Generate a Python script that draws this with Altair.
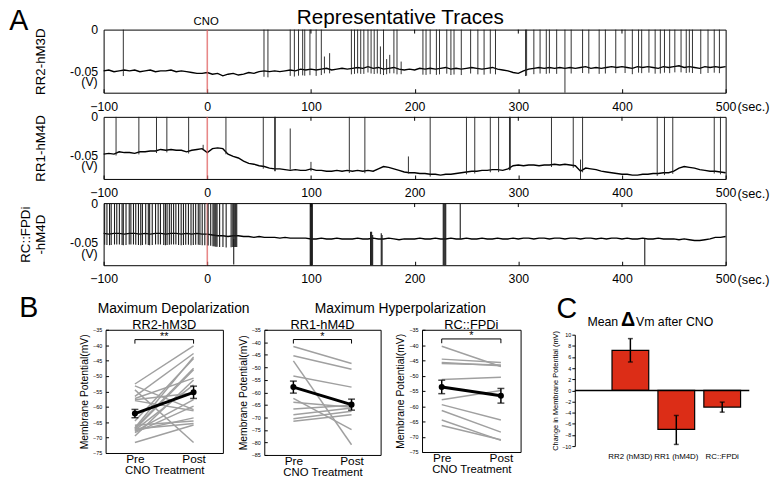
import altair as alt
import numpy as np
import pandas as pd

FONT = "Liberation Sans"

# ---------------- Panel A : representative traces ----------------
trace_time = list(range(-100, 505, 5))  # sample times (s)

rr2_trace = [
    -0.049, -0.048, -0.050, -0.049, -0.048, -0.049, -0.048, -0.050, -0.049, -0.048,
    -0.050, -0.049, -0.049, -0.048, -0.050, -0.049, -0.050, -0.051, -0.052, -0.052,
    -0.051, -0.053, -0.052, -0.055, -0.053, -0.052, -0.054, -0.053, -0.051, -0.052,
    -0.050, -0.049, -0.050, -0.049, -0.050, -0.049, -0.048, -0.049, -0.047, -0.048,
    -0.047, -0.048, -0.047, -0.046, -0.048, -0.047, -0.046, -0.047, -0.046, -0.045,
    -0.046, -0.044, -0.046, -0.045, -0.047, -0.046, -0.045, -0.047, -0.048, -0.047,
    -0.048, -0.046, -0.047, -0.046, -0.047, -0.046, -0.045, -0.047, -0.046, -0.047,
    -0.046, -0.045, -0.046, -0.047, -0.046, -0.045, -0.047, -0.048, -0.049, -0.051,
    -0.052, -0.049, -0.047, -0.046, -0.045, -0.046, -0.045, -0.046, -0.045, -0.046,
    -0.045, -0.046, -0.045, -0.044, -0.046, -0.045, -0.046, -0.045, -0.044, -0.045,
    -0.044, -0.045, -0.046, -0.044, -0.045, -0.044, -0.045, -0.046, -0.044, -0.045,
    -0.044, -0.043, -0.045, -0.044, -0.045, -0.046, -0.044, -0.045, -0.044, -0.045,
    -0.044]
rr1_trace = [
    -0.048, -0.047, -0.048, -0.045, -0.046, -0.046, -0.047, -0.045, -0.045, -0.044,
    -0.044, -0.042, -0.043, -0.042, -0.043, -0.043, -0.045, -0.043, -0.042, -0.041,
    -0.046, -0.041, -0.040, -0.041, -0.048, -0.051, -0.053, -0.057, -0.060, -0.061,
    -0.063, -0.064, -0.066, -0.067, -0.067, -0.068, -0.069, -0.068, -0.069, -0.069,
    -0.067, -0.069, -0.069, -0.070, -0.070, -0.069, -0.070, -0.069, -0.070, -0.069,
    -0.070, -0.069, -0.070, -0.067, -0.064, -0.065, -0.067, -0.069, -0.071, -0.072,
    -0.072, -0.073, -0.073, -0.074, -0.074, -0.075, -0.074, -0.074, -0.073, -0.072,
    -0.071, -0.070, -0.070, -0.069, -0.069, -0.068, -0.068, -0.069, -0.067, -0.063,
    -0.062, -0.063, -0.062, -0.062, -0.063, -0.062, -0.062, -0.061, -0.062, -0.061,
    -0.062, -0.063, -0.070, -0.066, -0.067, -0.068, -0.070, -0.071, -0.072, -0.073,
    -0.074, -0.074, -0.075, -0.075, -0.074, -0.074, -0.073, -0.073, -0.072, -0.072,
    -0.070, -0.066, -0.064, -0.065, -0.066, -0.068, -0.069, -0.070, -0.070, -0.071,
    -0.072]
rcf_trace = [
    -0.038, -0.039, -0.038, -0.038, -0.039, -0.038, -0.038, -0.039, -0.038, -0.039,
    -0.038, -0.038, -0.039, -0.038, -0.038, -0.039, -0.038, -0.039, -0.038, -0.039,
    -0.039, -0.040, -0.041, -0.041, -0.042, -0.041, -0.041, -0.042, -0.042, -0.043,
    -0.042, -0.043, -0.043, -0.043, -0.044, -0.043, -0.044, -0.044, -0.044, -0.044,
    -0.045, -0.045, -0.044, -0.045, -0.045, -0.044, -0.045, -0.045, -0.045, -0.044,
    -0.045, -0.045, -0.044, -0.045, -0.045, -0.044, -0.045, -0.046, -0.045, -0.045,
    -0.045, -0.044, -0.045, -0.045, -0.044, -0.045, -0.045, -0.044, -0.045, -0.045,
    -0.044, -0.045, -0.045, -0.044, -0.045, -0.045, -0.044, -0.045, -0.045, -0.044,
    -0.045, -0.044, -0.044, -0.045, -0.044, -0.044, -0.045, -0.044, -0.044, -0.045,
    -0.044, -0.044, -0.045, -0.044, -0.044, -0.045, -0.044, -0.045, -0.044, -0.044,
    -0.045, -0.044, -0.045, -0.045, -0.044, -0.045, -0.045, -0.044, -0.045, -0.045,
    -0.045, -0.046, -0.045, -0.046, -0.047, -0.047, -0.046, -0.045, -0.043, -0.043,
    -0.042]

# spike times (s) reaching the top of the panel
rr2_spikes = [-81, 54.7, 58.5, 80, 84, 88, 92, 94, 99, 105, 110, 139, 142, 145, 148,
              151, 155, 158, 161, 164, 170, 180, 183, 208, 211, 215, 221, 224, 231,
              235, 238, 245, 254, 261, 267, 273, 278, 307, 308, 315, 321, 327, 330,
              337, 351, 362, 368, 378, 384, 394, 403, 410, 416, 419, 426, 432, 437,
              441, 446, 451, 457, 462, 465, 468, 476, 483, 489, 494]
# other events: (time, top, bottom)
rr2_events = [(113, -0.032, -0.052), (118, -0.028, -0.052), (167, -0.020, -0.053),
              (173, -0.035, -0.053), (176, -0.030, -0.052), (187, -0.038, -0.053),
              (345, 0.0, -0.075)]

rr1_spikes = [-88, -66, -49, -39, -18, 18, 54, 65, 65.6, 137, 152, 215, 250, 258,
              273, 281, 291.5, 292.3, 332, 353, 362, 434, 441, 449, 489, 495]
rr1_events = [(80, -0.015, -0.068), (100, -0.058, -0.070), (194, -0.051, -0.073),
              (360, -0.055, -0.080), (-4, -0.036, -0.043)]

rcf_spikes = [-99, -96.8, -94.3, -92.7, -89.5, -87.3, -84.8, -82.2, -81, -78.4, -75.3,
              -73.7, -71.2, -69, -66.4, -64.2, -62.6, -59.4, -56.9, -55.6, -53.1,
              -49.9, -47.4, -45.2, -42, -40.4, -38.8, -36.6, -34.7, -32.5, -30.3,
              -27.7, -25.2, -23, -20.8, -18.2, -15.7, -13.5, -11.2, -8.7, -7.1, -4.9,
              -2.4, 0.8, 3.3, 5.5, 6.5, 7.5, 8.4, 9.4, 11.9, 15.1, 18.2, 23, 24.6,
              25.5, 26.5, 27.4, 28.4]
rcf_events = [(25.5, -0.045, -0.077), (99.3, 0.0, -0.078), (99.8, 0.0, -0.078),
              (100.3, 0.0, -0.078), (100.8, 0.0, -0.078), (101.3, 0.0, -0.078),
              (157.5, -0.036, -0.078), (158.5, -0.036, -0.078), (159.5, -0.040, -0.078),
              (167.8, -0.038, -0.078), (168.6, -0.040, -0.078), (227.6, 0.0, -0.078),
              (228.4, 0.0, -0.078), (229.2, 0.0, -0.078), (230.0, 0.0, -0.078),
              (244, 0.0, -0.045), (422, -0.045, -0.078)]

trace_ticks = [-100, 0, 100, 200, 300, 400, 500]
inner_top_ticks = [100, 200, 300, 400]

# ---------------- Panel B : pre / post membrane potential ----------------
rr2_pre = [-52.6, -53.2, -56.6, -57.3, -57.7, -58.0, -64.6, -66.8, -67.0, -67.3,
           -67.6, -68.0, -68.4, -67.2, -67.8, -69.5, -71.6, -66.0, -54.5]
rr2_post = [-40.2, -60.9, -42.7, -50.7, -55.5, -61.3, -44.3, -43.8, -47.5, -48.0,
            -52.9, -57.7, -59.8, -65.4, -63.6, -51.3, -65.9, -64.6, -71.6]
rr2_mean = [-62.2, -55.3]
rr2_sem = [1.35, 2.0]

rr1_pre = [-41.7, -45.4, -47.4, -53.5, -62.4, -63.9, -66.6, -68.9, -70.5, -71.5]
rr1_post = [-48.5, -50.8, -80.9, -57.9, -74.9, -65.9, -65.1, -66.2, -67.5, -68.9]
rr1_mean = [-57.9, -64.9]
rr1_sem = [2.4, 2.2]

rcf_pre = [-40.4, -44.6, -45.7, -46.0, -51.3, -57.9, -59.5, -61.4, -64.5, -66.3]
rcf_post = [-47.0, -45.7, -46.8, -46.5, -50.5, -54.9, -64.5, -68.5, -71.2, -71.0]
rcf_mean = [-53.7, -56.6]
rcf_sem = [2.2, 2.4]

# ---------------- Panel C : mean change ----------------
c_groups = ["RR2 (hM3D)", "RR1 (hM4D)", "RC::FPDi"]
c_mean = [7.2, -7.0, -3.0]
c_err_a = [5.1, -4.5, -2.1]
c_err_b = [9.3, -9.7, -3.9]


def ptext(txt, x, y, size, align="center", weight="normal", baseline="middle"):
    return alt.Chart(pd.DataFrame({"s": [txt]})).mark_text(
        fontSize=size, align=align, baseline=baseline, fontWeight=weight,
        font=FONT, color="black").encode(x=alt.value(x), y=alt.value(y), text="s:N")


def spikes_frame(base_v, spikes, events, below):
    bt = np.array(trace_time, dtype=float)
    bv = np.array(base_v, dtype=float)
    st = np.array(spikes, dtype=float)
    bot = np.interp(st, bt, bv) - below
    df1 = pd.DataFrame({"t": st, "top": 0.0, "bot": bot})
    df2 = pd.DataFrame(events, columns=["t", "top", "bot"])
    return pd.concat([df1, df2], ignore_index=True)


def trace_panel(base_v, spk, ydom, height, ytitle, extras=(), spike_w=0.9):
    xsc = alt.Scale(domain=[-100, 500], nice=False, zero=False)
    ysc = alt.Scale(domain=ydom, nice=False, zero=False)
    xb = alt.Axis(values=trace_ticks, title=None, grid=False, domain=False,
                  tickSize=4, offset=-4, labelPadding=8, labelFontSize=12.5,
                  labelFlush=False, labelFont=FONT)
    yl = alt.Axis(values=[0, -0.05], labelExpr="datum.value == 0 ? '0' : '-0.05'",
                  title=ytitle, grid=False, domain=False, ticks=False, labelPadding=6,
                  labelFontSize=12.5, titleFontSize=13.5, titleFontWeight="normal",
                  titlePadding=22, labelFlush=False, titleLineHeight=16)

    def X(f):
        return alt.X(f, type="quantitative", scale=xsc, axis=xb)

    def Y(f):
        return alt.Y(f, type="quantitative", scale=ysc, axis=yl)

    base = pd.DataFrame({"t": trace_time, "v": base_v})
    red = alt.Chart(pd.DataFrame({"t": [0]})).mark_rule(
        color="#e06060", strokeWidth=1.6, opacity=0.75).encode(x=X("t"))
    spikes = alt.Chart(spk).mark_rule(color="#1a1a1a", strokeWidth=spike_w).encode(
        x=X("t"), y=Y("bot"), y2="top:Q")
    line = alt.Chart(base).mark_line(color="black", strokeWidth=1.4).encode(
        x=X("t"), y=Y("v"))
    # short inward tick marks along the top frame (4 px long)
    tick_len = (ydom[1] - ydom[0]) * 4.0 / height
    tdf = pd.DataFrame({"t": inner_top_ticks, "a": [ydom[1]] * 4,
                        "b": [ydom[1] - tick_len] * 4})
    topticks = alt.Chart(tdf).mark_rule(color="black", strokeWidth=1).encode(
        x=X("t"), y=Y("a"), y2="b:Q")
    sec = alt.Chart(pd.DataFrame({"t": [500], "v": [ydom[0]], "s": ["(sec.)"]})).mark_text(
        align="left", baseline="top", dx=12, dy=9, fontSize=13, font=FONT,
        color="black").encode(x=X("t"), y=Y("v"), text="s:N")
    volt = alt.Chart(pd.DataFrame({"t": [-100], "v": [-0.05], "s": ["(V)"]})).mark_text(
        align="right", baseline="middle", dx=-6, dy=11, fontSize=12.5, font=FONT,
        color="black").encode(x=X("t"), y=Y("v"), text="s:N")
    layers = [line, red, spikes, topticks, sec, volt] + list(extras)
    return alt.layer(*layers).properties(width=631, height=height)


t1_extra = [
    ptext("Representative Traces", 301, -12, 21),
    ptext("CNO", 104, -8, 11.5),
    ptext("A", -86, -9, 29),
]
t1 = trace_panel(rr2_trace, spikes_frame(rr2_trace, rr2_spikes, rr2_events, 0.007),
                 [-0.075, 0], 64, "RR2-hM3D", t1_extra)
t2 = trace_panel(rr1_trace, spikes_frame(rr1_trace, rr1_spikes, rr1_events, 0.003),
                 [-0.08, 0], 63, "RR1-hM4D")
t3 = trace_panel(rcf_trace, spikes_frame(rcf_trace, rcf_spikes, rcf_events, 0.014),
                 [-0.078, 0], 63, ["RC::FPDi", "-hM4D"], spike_w=1.1)


def b_panel(pre, post, mean, sem, ydom, width, height, xdom, name, stars,
            br, br_end, extras=()):
    xsc = alt.Scale(domain=xdom, nice=False, zero=False)
    ysc = alt.Scale(domain=ydom, nice=False, zero=False)
    yvals = list(range(-35, ydom[0] - 1, -5))
    xa = alt.Axis(values=[1, 2], labelExpr="datum.value == 1 ? 'Pre' : 'Post'",
                  title="CNO Treatment", titleFontSize=11.5, titleFontWeight="normal",
                  labelFontSize=12, ticks=False, labelPadding=1, titlePadding=0,
                  grid=False, domain=False, labelFlush=False)
    ya = alt.Axis(values=yvals, title="Membrane Potential(mV)", titleFontSize=10.5,
                  titleFontWeight="normal", labelFontSize=5.5, tickSize=3, offset=-3,
                  labelPadding=4, domain=False, grid=False, titlePadding=3)

    def X(f):
        return alt.X(f, type="quantitative", scale=xsc, axis=xa)

    def Y(f):
        return alt.Y(f, type="quantitative", scale=ysc, axis=ya)

    n = len(pre)
    lines = pd.DataFrame({"id": list(range(n)) * 2, "c": [1] * n + [2] * n,
                          "v": list(pre) + list(post)})
    gray = alt.Chart(lines).mark_line(color="#a0a0a0", strokeWidth=1.5).encode(
        x=X("c"), y=Y("v"), detail="id:N")
    mdf = pd.DataFrame({"c": [1, 2], "m": mean,
                        "lo": [mean[0] - sem[0], mean[1] - sem[1]],
                        "hi": [mean[0] + sem[0], mean[1] + sem[1]]})
    mline = alt.Chart(mdf).mark_line(color="black", strokeWidth=3).encode(
        x=X("c"), y=Y("m"))
    mpt = alt.Chart(mdf).mark_point(filled=True, size=38, color="black", opacity=1).encode(
        x=X("c"), y=Y("m"))
    ebar = alt.Chart(mdf).mark_rule(color="black", strokeWidth=1.5).encode(
        x=X("c"), y=Y("lo"), y2="hi:Q")
    cap_lo = alt.Chart(mdf).mark_tick(color="black", orient="horizontal", size=7,
                                      thickness=1.5).encode(x=X("c"), y=Y("lo"))
    cap_hi = alt.Chart(mdf).mark_tick(color="black", orient="horizontal", size=7,
                                      thickness=1.5).encode(x=X("c"), y=Y("hi"))
    bdf = pd.DataFrame({"a": [1], "b": [2], "y": [br]})
    bh = alt.Chart(bdf).mark_rule(color="black", strokeWidth=1).encode(
        x=X("a"), x2="b:Q", y=Y("y"))
    vdf = pd.DataFrame({"c": [1, 2], "y": [br, br], "y2": [br_end, br_end]})
    bv = alt.Chart(vdf).mark_rule(color="black", strokeWidth=1).encode(
        x=X("c"), y=Y("y"), y2="y2:Q")
    sdf = pd.DataFrame({"c": [1.5], "y": [br], "s": [stars]})
    st = alt.Chart(sdf).mark_text(fontSize=11, dy=-3, font=FONT, color="black").encode(
        x=X("c"), y=Y("y"), text="s:N")
    ttl = ptext(name, width / 2, -5, 13)
    layers = [gray, mline, ebar, cap_lo, cap_hi, mpt, bh, bv, st, ttl] + list(extras)
    return alt.layer(*layers).properties(width=width, height=height)


b1 = b_panel(rr2_pre, rr2_post, rr2_mean, rr2_sem, [-75, -35], 119, 125, [0.5, 2.5],
             "RR2-hM3D", "**", -38.2, -39.5,
             [ptext("Maximum Depolarization", 69, -21, 14), ptext("B", -78, -22, 29)])
b2 = b_panel(rr1_pre, rr1_post, rr1_mean, rr1_sem, [-85, -35], 118, 127, [0.5, 2.5],
             "RR1-hM4D", "*", -38.9, -40.5)
b3 = b_panel(rcf_pre, rcf_post, rcf_mean, rcf_sem, [-75, -35], 100, 124, [0.667, 2.333],
             "RC::FPDi", "*", -38.0, -39.4,
             [ptext("Maximum Hyperpolarization", -22, -21, 14)])

# ---------------- Panel C ----------------
cdf = pd.DataFrame({"g": c_groups, "m": c_mean, "a": c_err_a, "b": c_err_b})
cx = alt.X("g:N", sort=c_groups,
           scale=alt.Scale(paddingInner=0.2, paddingOuter=0.5, align=0.81),
           axis=alt.Axis(title=None, ticks=False, domain=False, labelAngle=0,
                         labelFontSize=8, labelPadding=7, labelFont=FONT))
cysc = alt.Scale(domain=[-10, 10], range=[118, 5], nice=False, zero=False)
cya = alt.Axis(values=list(range(-10, 11, 2)), labelFontSize=5.5, tickSize=3,
               labelPadding=1, title="Change in Membrane Potential (mV)",
               titleFontSize=7.5, titleFontWeight="normal", titlePadding=2,
               grid=False, domainColor="black", domainWidth=1)
cbars = alt.Chart(cdf).mark_bar(color="#dc2d17", stroke="black", strokeWidth=1.2).encode(
    x=cx, y=alt.Y("m:Q", scale=cysc, axis=cya))
czero = alt.Chart(pd.DataFrame({"z": [0]})).mark_rule(color="black", strokeWidth=1.5).encode(
    y=alt.Y("z:Q", scale=cysc, axis=cya))
cerr = alt.Chart(cdf).mark_rule(color="black", strokeWidth=1.5).encode(
    x=cx, y=alt.Y("a:Q", scale=cysc, axis=cya), y2="b:Q")
ccap1 = alt.Chart(cdf).mark_tick(color="black", orient="horizontal", size=5,
                                 thickness=1.5).encode(x=cx, y=alt.Y("a:Q", scale=cysc, axis=cya))
ccap2 = alt.Chart(cdf).mark_tick(color="black", orient="horizontal", size=5,
                                 thickness=1.5).encode(x=cx, y=alt.Y("b:Q", scale=cysc, axis=cya))
c = alt.layer(
    cbars, czero, cerr, ccap1, ccap2,
    ptext("Mean", 44, -8, 12.5, align="right"),
    ptext("Δ", 54, -10, 20, weight="bold"),
    ptext("Vm after CNO", 62, -8, 12.5, align="left"),
    ptext("C", -8, -21, 29),
).properties(width=177, height=118, view=alt.ViewBackground(stroke="transparent"))

# invisible 1px cell that lets the B row start a little left of the traces
spacer = alt.Chart(pd.DataFrame({"s": [""]})).mark_text(opacity=0).encode(
    x=alt.value(0), y=alt.value(0), text="s:N"
).properties(width=1, height=1, view=alt.ViewBackground(stroke="transparent"))

top = alt.vconcat(t1, t2, t3, spacing=24.5, bounds="flush")
brow = alt.hconcat(b1, b2, b3, spacing=42, bounds="flush")
inner = alt.hconcat(brow, c, spacing=30)
bottom = alt.hconcat(spacer, inner, spacing=-97)
chart = alt.concat(top, bottom, columns=1, align="none", spacing=5.5).properties(
    padding={"left": 0, "top": -5.5, "right": 0, "bottom": 0}
).configure(font=FONT).configure_view(stroke="black", strokeWidth=1).configure_axis(
    labelColor="black", titleColor="black", tickColor="black", domainColor="black",
    labelFont=FONT, titleFont=FONT)

chart.save("out.html", embed_options={"renderer": "svg", "actions": False})
